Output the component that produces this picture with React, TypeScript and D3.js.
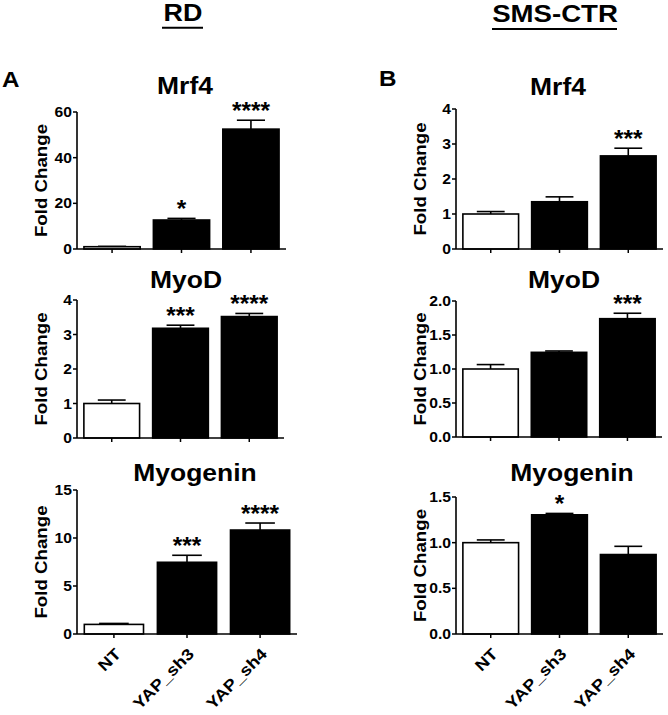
import React from "react";
import * as d3 from "d3";

const categories = ["NT", "YAP_sh3", "YAP_sh4"];

const rdMrf4 = [1.0, 12.7, 52.5];
const rdMrf4Err = [0.15, 0.7, 3.9];
const rdMrf4Stars = ["", "*", "****"];
const rdMrf4Ticks = [0, 20, 40, 60];

const rdMyoD = [1.0, 3.18, 3.52];
const rdMyoDErr = [0.1, 0.09, 0.09];
const rdMyoDStars = ["", "***", "****"];
const rdMyoDTicks = [0, 1, 2, 3, 4];

const rdMyog = [1.0, 7.47, 10.83];
const rdMyogErr = [0.1, 0.73, 0.73];
const rdMyogStars = ["", "***", "****"];
const rdMyogTicks = [0, 5, 10, 15];

const smsMrf4 = [1.0, 1.35, 2.66];
const smsMrf4Err = [0.07, 0.14, 0.22];
const smsMrf4Stars = ["", "", "***"];
const smsMrf4Ticks = [0, 1, 2, 3, 4];

const smsMyoD = [1.0, 1.245, 1.74];
const smsMyoDErr = [0.065, 0.02, 0.08];
const smsMyoDStars = ["", "", "***"];
const smsMyoDTicks = [0, 0.5, 1.0, 1.5, 2.0];

const smsMyog = [1.0, 1.305, 0.87];
const smsMyogErr = [0.03, 0.015, 0.09];
const smsMyogStars = ["", "*", ""];
const smsMyogTicks = [0, 0.5, 1.0, 1.5];

const FONT = "'Liberation Sans', Arial, Helvetica, sans-serif";

type Panel = {
  title: string;
  values: number[];
  errs: number[];
  stars: string[];
  ticks: number[];
  fmt: string;
  x0: number;
  x1: number;
  yTop: number;
  yBot: number;
  titleX: number;
  titleY: number;
  xLabels: boolean;
};

const panels: Panel[] = [
  { title: "Mrf4", values: rdMrf4, errs: rdMrf4Err, stars: rdMrf4Stars, ticks: rdMrf4Ticks, fmt: "d", x0: 77, x1: 286, yTop: 112, yBot: 249, titleX: 185, titleY: 93.5, xLabels: false },
  { title: "MyoD", values: rdMyoD, errs: rdMyoDErr, stars: rdMyoDStars, ticks: rdMyoDTicks, fmt: "d", x0: 77, x1: 284, yTop: 300, yBot: 438, titleX: 186, titleY: 288, xLabels: false },
  { title: "Myogenin", values: rdMyog, errs: rdMyogErr, stars: rdMyogStars, ticks: rdMyogTicks, fmt: "d", x0: 77, x1: 297, yTop: 490, yBot: 634, titleX: 195, titleY: 481, xLabels: true },
  { title: "Mrf4", values: smsMrf4, errs: smsMrf4Err, stars: smsMrf4Stars, ticks: smsMrf4Ticks, fmt: "d", x0: 456, x1: 663, yTop: 109, yBot: 249, titleX: 558, titleY: 94.5, xLabels: false },
  { title: "MyoD", values: smsMyoD, errs: smsMyoDErr, stars: smsMyoDStars, ticks: smsMyoDTicks, fmt: ".1f", x0: 456, x1: 662, yTop: 301, yBot: 437, titleX: 564, titleY: 288, xLabels: false },
  { title: "Myogenin", values: smsMyog, errs: smsMyogErr, stars: smsMyogStars, ticks: smsMyogTicks, fmt: ".1f", x0: 456, x1: 663, yTop: 497, yBot: 634, titleX: 572, titleY: 481, xLabels: true },
];

function SText(props: {
  x: number; y: number; sx?: number; rotate?: number; size: number;
  anchor?: "start" | "middle" | "end"; dy?: string; children: React.ReactNode;
}) {
  const { x, y, sx = 1.18, rotate = 0, size, anchor = "middle", dy } = props;
  return (
    <g transform={`translate(${x},${y}) rotate(${rotate}) scale(${sx},1)`}>
      <text textAnchor={anchor} dy={dy} fontFamily={FONT} fontWeight="bold" fontSize={size} fill="#000">
        {props.children}
      </text>
    </g>
  );
}

function BarPanel({ p }: { p: Panel }) {
  const x = d3.scaleBand<string>().domain(categories).range([p.x0, p.x1]).paddingInner(0.19).paddingOuter(0.1);
  const dom = d3.extent(p.ticks) as [number, number];
  const y = d3.scaleLinear().domain(dom).range([p.yBot, p.yTop]);
  const fmt = d3.format(p.fmt);
  const bw = x.bandwidth();
  return (
    <g>
      <SText x={p.titleX} y={p.titleY} size={23} sx={1.15}>{p.title}</SText>
      <SText x={p.x0 - 30} y={(p.yTop + p.yBot) / 2} size={17} rotate={-90} sx={1.1}>Fold Change</SText>
      {categories.map((c, i) => {
        const cx = (x(c) as number) + bw / 2;
        const v = p.values[i];
        const top = y(v + p.errs[i]);
        return (
          <g key={c}>
            <line x1={cx} x2={cx} y1={y(v)} y2={top} stroke="#000" strokeWidth={1.6} />
            <line x1={cx - bw / 4} x2={cx + bw / 4} y1={top} y2={top} stroke="#000" strokeWidth={1.6} />
            <rect x={x(c)} y={y(v)} width={bw} height={y(0) - y(v)} fill={i === 0 ? "#fff" : "#000"} stroke="#000" strokeWidth={1.6} />
            {p.stars[i] ? (
              <SText x={cx} y={top - 1} size={24} sx={1.02}>{p.stars[i]}</SText>
            ) : null}
            <line x1={cx} x2={cx} y1={p.yBot} y2={p.yBot + 4} stroke="#000" strokeWidth={1.5} />
            {p.xLabels ? (
              <SText x={cx + 8} y={p.yBot + 21} size={16} rotate={-45} anchor="end" sx={1.15}>{c}</SText>
            ) : null}
          </g>
        );
      })}
      <line x1={p.x0} x2={p.x0} y1={p.yTop} y2={p.yBot} stroke="#000" strokeWidth={1.6} />
      <line x1={p.x0} x2={p.x1} y1={p.yBot} y2={p.yBot} stroke="#000" strokeWidth={1.6} />
      {p.ticks.map((t) => (
        <g key={t}>
          <line x1={p.x0 - 4} x2={p.x0} y1={y(t)} y2={y(t)} stroke="#000" strokeWidth={1.5} />
          <SText x={p.x0 - 5} y={y(t)} size={14} anchor="end" dy="0.36em" sx={1.12}>{fmt(t)}</SText>
        </g>
      ))}
    </g>
  );
}

export default function App() {
  return (
    <svg width={668} height={715} style={{ position: "absolute", left: 0, top: 0, background: "#fff" }}>
      <rect width={668} height={715} fill="#fff" />
      <SText x={183} y={20.5} size={24} sx={1.12}>RD</SText>
      <line x1={162} x2={203} y1={27.7} y2={27.7} stroke="#000" strokeWidth={2} />
      <SText x={555} y={21.5} size={24} sx={1.15}>SMS-CTR</SText>
      <line x1={492} x2={617} y1={29} y2={29} stroke="#000" strokeWidth={2} />
      <SText x={2} y={87} size={22} anchor="start" sx={1.1}>A</SText>
      <SText x={379} y={86} size={22} anchor="start" sx={1.1}>B</SText>
      {panels.map((p, i) => (
        <BarPanel key={i} p={p} />
      ))}
    </svg>
  );
}
